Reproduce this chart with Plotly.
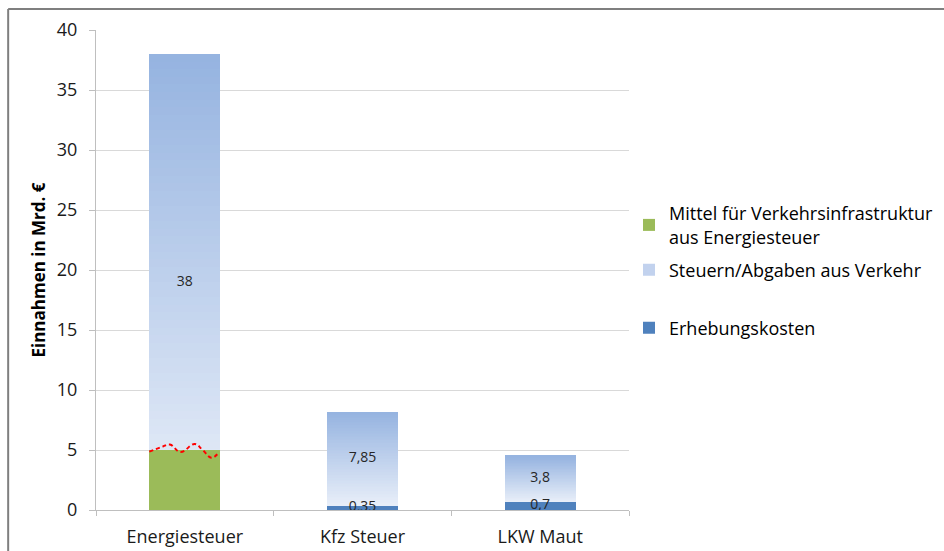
import plotly.graph_objects as go

categories = ["Energiesteuer", "Kfz Steuer", "LKW Maut"]
erhebungskosten = [0, 0.35, 0.7]
steuern = [38, 7.85, 3.8]
mittel_infra = [5, None, None]
wave_x = [-0.20, -0.13, -0.084, -0.024, 0.056, 0.10, 0.15, 0.19]
wave_y = [4.86, 5.25, 5.45, 4.83, 5.5, 5.0, 4.35, 4.77]
y_ticks = [0, 5, 10, 15, 20, 25, 30, 35, 40]

FONT = "Open Sans"
BAR_W = 0.40
N_SLICES = 60
TOP = (0x95, 0xB3, 0xE0)
BOT = (0xE9, 0xEF, 0xF9)
TXT = "#1A1A1A"
W, H = 944, 551


def fmt(v):
    return ("%g" % v).replace(".", ",")


steuern_base = [e for e in erhebungskosten]

fig = go.Figure()

# legend carrier for Steuern (fully covered by gradient slices)
fig.add_trace(go.Bar(
    x=categories, y=steuern, base=steuern_base, width=BAR_W,
    marker=dict(color="#C2D2EE", line=dict(width=0)),
    name="Steuern/Abgaben aus Verkehr", legend="legend2", hoverinfo="skip"))

# gradient slices
for k in range(N_SLICES):
    t = (k + 0.5) / N_SLICES  # 0 bottom -> 1 top
    c = tuple(round(BOT[i] + (TOP[i] - BOT[i]) * t) for i in range(3))
    fig.add_trace(go.Bar(
        x=categories,
        y=[v / N_SLICES * 1.02 for v in steuern],
        base=[b + v * k / N_SLICES for b, v in zip(steuern_base, steuern)],
        width=BAR_W,
        marker=dict(color="rgb(%d,%d,%d)" % c, line=dict(width=0)),
        showlegend=False, hoverinfo="skip"))

fig.add_trace(go.Bar(
    x=categories, y=erhebungskosten, width=BAR_W,
    marker=dict(color="#4F81BD", line=dict(width=0)),
    name="Erhebungskosten", legend="legend3", hoverinfo="skip"))

fig.add_trace(go.Bar(
    x=categories, y=mittel_infra, width=BAR_W,
    marker=dict(color="#9BBB59", line=dict(width=0)),
    name="Mittel für Verkehrsinfrastruktur<br>aus Energiesteuer",
    legend="legend", hoverinfo="skip"))

# red dashed wave on top of green segment
fig.add_trace(go.Scatter(
    x=wave_x, y=wave_y, mode="lines", xaxis="x2",
    line=dict(color="#FF0000", width=2, dash="4px,3px", shape="spline",
              smoothing=1.2),
    showlegend=False, hoverinfo="skip"))

# data labels
lab_x, lab_y, lab_t = [], [], []
for c, e, s in zip(categories, erhebungskosten, steuern):
    lab_x.append(c); lab_y.append(e + s / 2); lab_t.append(fmt(s))
    if e:
        lab_x.append(c); lab_y.append(e / 2); lab_t.append(fmt(e))
fig.add_trace(go.Scatter(
    x=lab_x, y=lab_y, text=lab_t, mode="text",
    textfont=dict(family=FONT, size=14, color="#262626"),
    showlegend=False, hoverinfo="skip"))

legend_common = dict(
    font=dict(family=FONT, size=18, color="#000000"),
    bgcolor="rgba(0,0,0,0)", xanchor="left", yanchor="middle",
    xref="container", yref="container",
    x=629 / W, itemclick=False)

fig.update_layout(
    width=W, height=H,
    margin=dict(l=96, r=314, t=30, b=41),
    paper_bgcolor="white", plot_bgcolor="white",
    barmode="overlay", bargap=0,
    showlegend=True,
    legend=dict(**legend_common, y=1 - 225 / H),
    legend2=dict(**legend_common, y=1 - 270 / H),
    legend3=dict(**legend_common, y=1 - 328 / H),
    xaxis=dict(
        type="category", range=[-0.5, 2.5], automargin=False,
        showgrid=False, showline=True, linecolor="#BFBFBF", linewidth=1,
        ticks="outside", tickson="boundaries", ticklen=5, tickcolor="#BFBFBF",
        ticklabelstandoff=10,
        tickfont=dict(family=FONT, size=18, color=TXT),
        zeroline=False),
    xaxis2=dict(overlaying="x", range=[-0.5, 2.5], visible=False),
    yaxis=dict(
        range=[0, 40], tickvals=y_ticks, automargin=False,
        showgrid=True, gridcolor="#D9D9D9", gridwidth=1,
        showline=True, linecolor="#BFBFBF", linewidth=1,
        ticks="outside", ticklen=6, tickcolor="#BFBFBF",
        ticklabelstandoff=8,
        tickfont=dict(family=FONT, size=18, color=TXT),
        zeroline=False,
        title=dict(text="<b>Einnahmen in Mrd. €</b>", standoff=6,
                   font=dict(family=FONT, size=17, color="#000000"))),
    shapes=[
        dict(type="line", xref="paper", yref="paper",
             x0=(8 - 96) / 534, x1=(8 - 96) / 534,
             y0=(510 - 9) / 480, y1=(510 - 560) / 480,
             line=dict(color="#7F7F7F", width=2)),
        dict(type="line", xref="paper", yref="paper",
             x0=(8 - 96) / 534, x1=(960 - 96) / 534,
             y0=(510 - 9) / 480, y1=(510 - 9) / 480,
             line=dict(color="#7F7F7F", width=2)),
    ],
)

fig.write_html("out.html")
